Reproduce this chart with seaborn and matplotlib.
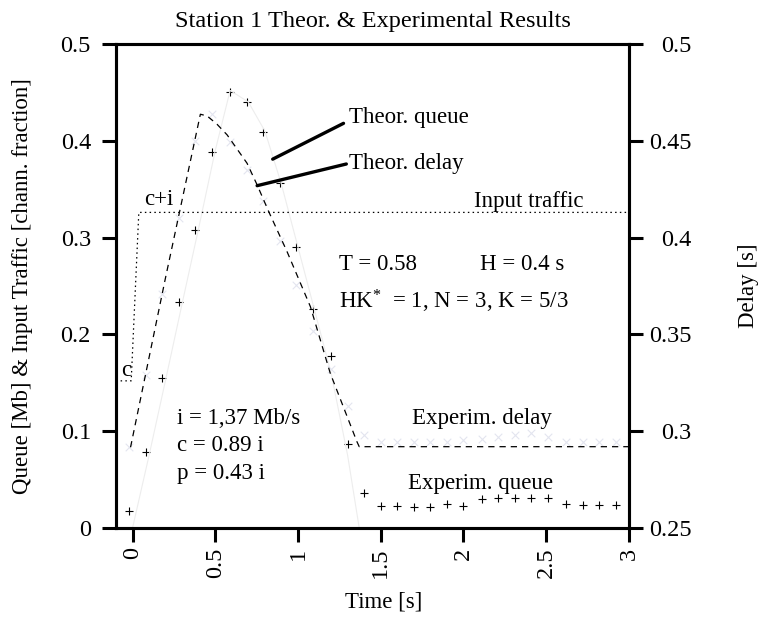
import matplotlib
matplotlib.use("Agg")
import matplotlib.pyplot as plt
import seaborn as sns
import pandas as pd

# ---------------- data ----------------
# experimental queue (+ markers), left axis
exp_t = [-0.02, 0.08, 0.18, 0.28, 0.38, 0.48, 0.59, 0.69, 0.79, 0.89, 0.99, 1.09,
         1.20, 1.30, 1.40, 1.50, 1.60, 1.70, 1.80, 1.90, 2.00, 2.11, 2.21, 2.31,
         2.41, 2.51, 2.62, 2.72, 2.82, 2.92]
exp_queue = [0.018, 0.078, 0.155, 0.233, 0.308, 0.388, 0.450, 0.440, 0.409, 0.356,
             0.290, 0.226, 0.178, 0.087, 0.036, 0.023, 0.023, 0.022, 0.022, 0.0245,
             0.023, 0.0296, 0.0307, 0.0313, 0.0313, 0.0313, 0.0248, 0.0238, 0.0238, 0.0238]
# experimental delay (faint x markers), right axis
exp_delay = [0.292, 0.329, 0.371, 0.410, 0.450, 0.464, 0.4495, 0.435, 0.419, 0.398,
             0.3755, 0.352, 0.332, 0.313, 0.298, 0.2946, 0.2946, 0.2946, 0.2946, 0.2946,
             0.2955, 0.2958, 0.297, 0.298, 0.299, 0.297, 0.2946, 0.2946, 0.2946, 0.2946]

# theoretical queue (very faint line), left axis
theo_q_t = [0.0, 0.1, 0.2, 0.3, 0.4, 0.5, 0.59, 0.7, 0.8, 0.9, 1.0, 1.1, 1.2, 1.3, 1.37, 3.0]
theo_q = [0.0, 0.075, 0.153, 0.232, 0.31, 0.39, 0.452, 0.44, 0.41, 0.355, 0.29, 0.225,
          0.16, 0.075, 0.0, 0.0]

# theoretical delay (dashed line), right axis
theo_d_t = [-0.012, 0.199, 0.41, 0.451, 0.511, 0.572, 0.692, 0.753, 0.823, 0.934,
            1.075, 1.195, 1.356, 1.37, 3.0]
theo_d = [0.2917, 0.3791, 0.4637, 0.4628, 0.4585, 0.4530, 0.4384, 0.4272, 0.4134,
          0.3927, 0.3643, 0.3299, 0.2946, 0.292, 0.292]

# input traffic (dotted line), left axis
inp_t = [-0.072, -0.008, 0.038, 3.0]
inp_v = [0.152, 0.152, 0.326, 0.326]

x_ticks = [0, 0.5, 1, 1.5, 2, 2.5, 3]
x_ticklabels = ["0", "0.5", "1", "1.5", "2", "2.5", "3"]
yl_ticks = [0, 0.1, 0.2, 0.3, 0.4, 0.5]
yl_ticklabels = ["0", "0.1", "0.2", "0.3", "0.4", "0.5"]
yr_ticks = [0.25, 0.3, 0.35, 0.4, 0.45, 0.5]
yr_ticklabels = ["0.25", "0.3", "0.35", "0.4", "0.45", "0.5"]

title = "Station 1 Theor. & Experimental Results"
xlabel = "Time [s]"
ylabel_left = "Queue [Mb] & Input Traffic [chann. fraction]"
ylabel_right = "Delay [s]"

# ---------------- style ----------------
sns.set_theme(style="white")
plt.rcParams["font.family"] = ["Liberation Serif", "DejaVu Serif"]
plt.rcParams["mathtext.fontset"] = "custom"
plt.rcParams["mathtext.rm"] = "Liberation Serif"
plt.rcParams["mathtext.it"] = "Liberation Serif:italic"
plt.rcParams["mathtext.bf"] = "Liberation Serif:bold"
for key in ("text.color", "axes.labelcolor", "xtick.color", "ytick.color",
            "axes.edgecolor"):
    plt.rcParams[key] = "black"

FS = 16.5
FT = 17.5
SPW = 2.2

fig = plt.figure(figsize=(7.61, 6.19), dpi=100)
ax = fig.add_axes([0.1524, 0.147, 0.8265 - 0.1524, 0.929 - 0.147])
ax2 = ax.twinx()

df_q = pd.DataFrame({"t": exp_t, "queue": exp_queue, "delay": exp_delay})
df_tq = pd.DataFrame({"t": theo_q_t, "q": theo_q})
df_td = pd.DataFrame({"t": theo_d_t, "d": theo_d})
df_in = pd.DataFrame({"t": inp_t, "v": inp_v})

# left axis marks
sns.lineplot(data=df_tq, x="t", y="q", ax=ax, color="#ededed", lw=0.8,
             sort=False, estimator=None)
sns.lineplot(data=df_in, x="t", y="v", ax=ax, color="black", lw=0.9,
             sort=False, estimator=None, linestyle=(0, (1.2, 2.6)))
sns.scatterplot(data=df_q, x="t", y="queue", ax=ax, marker="+", color="black",
                s=30, linewidth=0.8)

# right axis marks
sns.scatterplot(data=df_q, x="t", y="delay", ax=ax2, marker="x", color="#e3e5ef",
                s=30, linewidth=0.8)
sns.lineplot(data=df_td, x="t", y="d", ax=ax2, color="black", lw=0.9,
             sort=False, estimator=None, linestyle=(0, (5, 4)))

# axes limits & ticks
ax.set_xlim(-0.1, 3.0)
ax.set_ylim(0, 0.5)
ax2.set_ylim(0.25, 0.5)

ax.set_xticks(x_ticks)
ax.set_xticklabels(x_ticklabels, rotation=90, fontsize=FT)
ax.set_yticks(yl_ticks)
ax.set_yticklabels(yl_ticklabels, fontsize=FT)
ax2.set_yticks(yr_ticks)
ax2.set_yticklabels(yr_ticklabels, fontsize=FT)

ax.tick_params(axis="x", direction="out", length=10, width=SPW, pad=4,
               bottom=True, top=False, colors="black")
ax.tick_params(axis="y", direction="out", length=10, width=SPW, pad=8,
               left=True, right=False, colors="black")
ax2.tick_params(axis="y", direction="out", length=10, width=SPW, pad=35,
                right=True, left=False, colors="black")
for lab in ax2.get_yticklabels():
    lab.set_horizontalalignment("right")

for a in (ax, ax2):
    for sp in a.spines.values():
        sp.set_visible(True)
        sp.set_linewidth(SPW)
        sp.set_color("black")

ax.set_xlabel(xlabel, fontsize=FS, color="black")
ax.xaxis.set_label_coords(0.522, -0.132)
ax.set_ylabel(ylabel_left, fontsize=FS, color="black")
ax.yaxis.set_label_coords(-0.162, 0.5)
ax2.set_ylabel(ylabel_right, fontsize=FS, color="black")
ax2.yaxis.set_label_coords(1.213, 0.5)
ax.set_title(title, fontsize=FT, pad=12, color="black")

# annotations
ax.annotate("", xy=(0.847, 0.381), xytext=(1.275, 0.418),
            arrowprops=dict(arrowstyle="-", lw=2.4, color="black",
                            shrinkA=0, shrinkB=0))
ax.annotate("", xy=(0.753, 0.3536), xytext=(1.292, 0.376),
            arrowprops=dict(arrowstyle="-", lw=2.4, color="black",
                            shrinkA=0, shrinkB=0))
ax.text(1.306, 0.424, "Theor. queue", fontsize=FS, ha="left", va="center")
ax.text(1.306, 0.377, "Theor. delay", fontsize=FS, ha="left", va="center")
ax.text(2.065, 0.337, "Input traffic", fontsize=FS, ha="left", va="center")
ax.text(0.068, 0.339, "c+i", fontsize=FS, ha="left", va="center")
ax.text(-0.068, 0.163, "c", fontsize=FS, ha="left", va="center")
ax.text(1.245, 0.2717, "T = 0.58", fontsize=FS, ha="left", va="center")
ax.text(2.10, 0.2717, "H = 0.4 s", fontsize=FS, ha="left", va="center")
ax.text(1.245, 0.2338, r"HK$^{\mathrm{*}}$  = 1, N = 3, K = 5/3", fontsize=FS,
        ha="left", va="center")
ax.text(0.27, 0.1133, "i = 1,37 Mb/s", fontsize=FS, ha="left", va="center")
ax.text(0.27, 0.0857, "c = 0.89 i", fontsize=FS, ha="left", va="center")
ax.text(0.27, 0.0565, "p = 0.43 i", fontsize=FS, ha="left", va="center")
ax.text(1.688, 0.1133, "Experim. delay", fontsize=FS, ha="left", va="center")
ax.text(1.662, 0.046, "Experim. queue", fontsize=FS, ha="left", va="center")

fig.savefig("out.png", dpi=100)
